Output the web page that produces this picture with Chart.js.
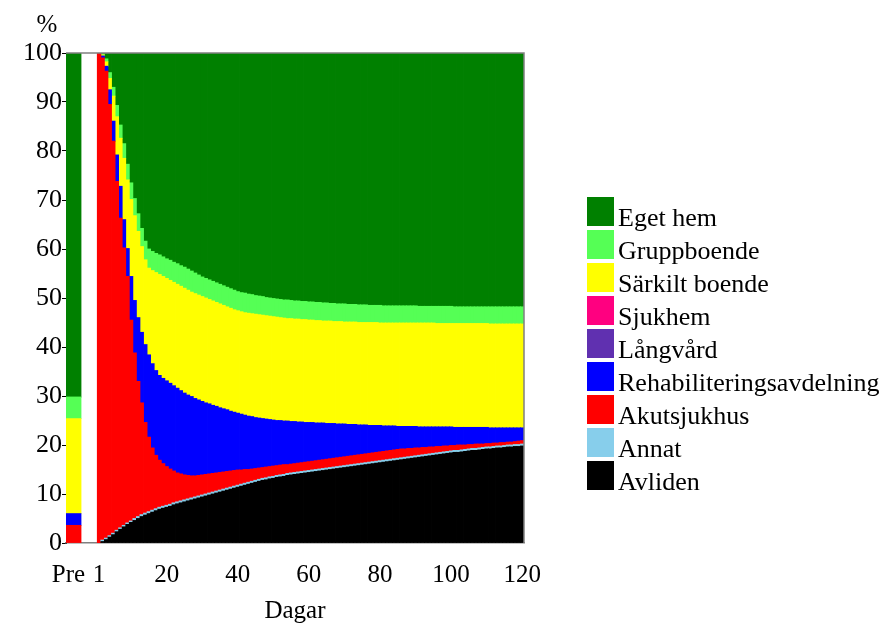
<!DOCTYPE html>
<html>
<head>
<meta charset="utf-8">
<script src="https://cdn.jsdelivr.net/npm/chart.js@4.4.1/dist/chart.umd.min.js"></script>
<style>
  html, body { margin: 0; padding: 0; background: #fff; }
</style>
</head>
<body>
<canvas id="chart" width="884" height="627"></canvas>
<script>
// ─── Data ───────────────────────────────
const days = Array.from({ length: 120 }, (_, i) => i + 1);
const xTickDays = [1, 20, 40, 60, 80, 100, 120];

const seriesNames = ["Avliden", "Annat", "Akutsjukhus", "Rehabiliteringsavdelning",
    "Långvård", "Sjukhem", "Särkilt boende", "Gruppboende", "Eget hem"];
const seriesColors = ["#000000", "#87ceeb", "#ff0000", "#0000ff",
    "#6030b0", "#ff0080", "#ffff00", "#55ff55", "#008000"];

// share before admission ("Pre"), same order as seriesNames
const preValues = [0, 0, 3.6, 2.4, 0, 0, 19.4, 4.4, 70.2];

const avliden = [
    0.0, 0.3, 0.7, 1.2, 1.7, 2.3, 2.8, 3.3, 3.8, 4.2,
    4.6, 5.0, 5.4, 5.7, 6.0, 6.3, 6.6, 6.9, 7.1, 7.3,
    7.5, 7.8, 8.0, 8.2, 8.4, 8.6, 8.8, 9.0, 9.2, 9.4,
    9.6, 9.8, 10.0, 10.2, 10.4, 10.6, 10.8, 11.0, 11.2, 11.4,
    11.6, 11.8, 12.0, 12.2, 12.4, 12.6, 12.8, 12.9, 13.1, 13.2,
    13.4, 13.5, 13.6, 13.8, 13.9, 14.0, 14.1, 14.2, 14.3, 14.4,
    14.5, 14.6, 14.7, 14.8, 14.9, 15.0, 15.1, 15.2, 15.3, 15.4,
    15.5, 15.6, 15.7, 15.8, 15.9, 16.0, 16.1, 16.2, 16.3, 16.4,
    16.5, 16.6, 16.7, 16.8, 16.9, 17.0, 17.1, 17.2, 17.3, 17.4,
    17.5, 17.6, 17.7, 17.8, 17.9, 18.0, 18.1, 18.2, 18.3, 18.4,
    18.5, 18.5, 18.6, 18.7, 18.8, 18.9, 18.9, 19.0, 19.1, 19.2,
    19.2, 19.3, 19.4, 19.4, 19.5, 19.6, 19.6, 19.7, 19.7, 19.8
];
const annat = [
    0.0, 0.3, 0.3, 0.3, 0.3, 0.3, 0.3, 0.3, 0.3, 0.3,
    0.4, 0.4, 0.4, 0.4, 0.4, 0.4, 0.4, 0.4, 0.4, 0.4,
    0.4, 0.4, 0.4, 0.4, 0.4, 0.4, 0.4, 0.4, 0.4, 0.4,
    0.4, 0.4, 0.4, 0.4, 0.4, 0.4, 0.4, 0.4, 0.4, 0.4,
    0.4, 0.4, 0.4, 0.4, 0.4, 0.4, 0.4, 0.4, 0.4, 0.4,
    0.4, 0.4, 0.4, 0.4, 0.4, 0.4, 0.4, 0.4, 0.4, 0.4,
    0.4, 0.4, 0.4, 0.4, 0.4, 0.4, 0.4, 0.4, 0.4, 0.4,
    0.4, 0.4, 0.4, 0.4, 0.4, 0.4, 0.4, 0.4, 0.4, 0.4,
    0.4, 0.4, 0.4, 0.4, 0.4, 0.4, 0.4, 0.4, 0.4, 0.4,
    0.4, 0.4, 0.4, 0.4, 0.4, 0.4, 0.4, 0.4, 0.4, 0.4,
    0.4, 0.4, 0.4, 0.4, 0.4, 0.4, 0.4, 0.4, 0.4, 0.4,
    0.4, 0.4, 0.4, 0.4, 0.4, 0.4, 0.4, 0.4, 0.4, 0.4
];
const akutsjukhus = [
    100.0, 98.4, 95.3, 88.0, 80.0, 71.2, 63.2, 56.6, 50.3, 41.0,
    33.8, 27.6, 22.8, 18.5, 15.2, 12.7, 10.9, 9.6, 8.7, 7.9,
    7.2, 6.5, 5.9, 5.5, 5.1, 4.8, 4.5, 4.3, 4.2, 4.1,
    4.0, 3.9, 3.8, 3.7, 3.6, 3.5, 3.4, 3.3, 3.2, 3.1,
    2.9, 2.8, 2.6, 2.5, 2.4, 2.3, 2.2, 2.2, 2.1, 2.1,
    2.0, 2.0, 2.0, 1.8, 1.8, 1.8, 1.8, 1.8, 1.8, 1.8,
    1.8, 1.8, 1.8, 1.8, 1.8, 1.8, 1.8, 1.8, 1.8, 1.8,
    1.8, 1.8, 1.8, 1.8, 1.8, 1.8, 1.8, 1.8, 1.8, 1.8,
    1.8, 1.8, 1.8, 1.8, 1.8, 1.8, 1.7, 1.7, 1.6, 1.6,
    1.5, 1.5, 1.4, 1.4, 1.3, 1.3, 1.2, 1.2, 1.1, 1.1,
    1.0, 1.1, 1.0, 0.9, 0.9, 0.8, 0.9, 0.8, 0.7, 0.7,
    0.7, 0.7, 0.6, 0.7, 0.6, 0.6, 0.6, 0.6, 0.7, 0.7
];
const rehab = [
    0.0, 0.4, 1.0, 3.0, 4.1, 5.4, 6.5, 5.8, 5.7, 8.9,
    10.7, 13.0, 14.4, 15.9, 16.8, 17.2, 17.3, 17.3, 17.4, 17.5,
    17.5, 17.4, 17.3, 17.0, 16.7, 16.4, 16.2, 15.8, 15.4, 15.0,
    14.6, 14.3, 13.9, 13.6, 13.2, 12.9, 12.6, 12.2, 11.9, 11.6,
    11.4, 11.1, 10.9, 10.7, 10.4, 10.2, 10.0, 9.8, 9.6, 9.4,
    9.2, 9.1, 8.9, 8.9, 8.7, 8.6, 8.4, 8.3, 8.1, 8.0,
    7.9, 7.7, 7.6, 7.5, 7.3, 7.2, 7.1, 6.9, 6.8, 6.7,
    6.5, 6.4, 6.3, 6.1, 6.0, 5.9, 5.7, 5.6, 5.5, 5.4,
    5.2, 5.1, 5.0, 4.9, 4.7, 4.6, 4.6, 4.5, 4.5, 4.4,
    4.3, 4.2, 4.2, 4.1, 4.1, 4.0, 4.0, 3.9, 3.9, 3.8,
    3.7, 3.6, 3.6, 3.6, 3.5, 3.5, 3.4, 3.4, 3.4, 3.3,
    3.2, 3.1, 3.1, 3.0, 3.0, 2.9, 2.9, 2.8, 2.7, 2.6
];
const langvard = new Array(120).fill(0);
const sjukhem = new Array(120).fill(0);
const sarkiltBoende = [
    0.0, 0.2, 0.9, 2.3, 5.1, 7.8, 9.8, 12.5, 14.0, 15.7,
    17.3, 17.6, 17.5, 17.3, 17.7, 19.0, 20.0, 20.6, 20.8, 20.9,
    21.0, 21.1, 21.2, 21.3, 21.4, 21.4, 21.3, 21.4, 21.4, 21.4,
    21.4, 21.3, 21.3, 21.2, 21.2, 21.1, 21.0, 21.0, 20.9, 20.9,
    20.9, 20.9, 21.0, 21.0, 21.1, 21.1, 21.1, 21.1, 21.1, 21.1,
    21.1, 21.0, 21.0, 20.9, 21.0, 20.9, 21.0, 20.9, 21.0, 20.9,
    20.9, 20.9, 20.9, 20.8, 20.9, 20.9, 20.8, 20.9, 20.9, 20.8,
    20.9, 20.9, 20.9, 20.9, 20.9, 20.9, 21.0, 21.0, 21.0, 20.9,
    21.0, 21.0, 21.0, 21.0, 21.1, 21.1, 21.1, 21.1, 21.1, 21.1,
    21.2, 21.2, 21.2, 21.2, 21.2, 21.1, 21.1, 21.1, 21.1, 21.1,
    21.2, 21.2, 21.2, 21.2, 21.2, 21.2, 21.2, 21.2, 21.2, 21.2,
    21.2, 21.2, 21.2, 21.2, 21.2, 21.2, 21.2, 21.2, 21.2, 21.2
];
const gruppboende = [
    0.0, 0.2, 0.6, 1.2, 1.8, 2.3, 2.7, 3.0, 3.2, 3.4,
    3.5, 3.6, 3.7, 3.8, 3.9, 3.9, 3.9, 4.0, 4.0, 4.0,
    4.1, 4.1, 4.2, 4.2, 4.3, 4.3, 4.3, 4.2, 4.1, 4.0,
    4.0, 4.0, 4.0, 4.0, 4.0, 4.0, 4.0, 4.0, 4.0, 3.9,
    3.9, 4.0, 3.9, 3.9, 3.8, 3.8, 3.8, 3.7, 3.7, 3.7,
    3.7, 3.7, 3.7, 3.8, 3.7, 3.7, 3.7, 3.7, 3.7, 3.7,
    3.7, 3.7, 3.7, 3.7, 3.7, 3.6, 3.7, 3.6, 3.6, 3.7,
    3.6, 3.6, 3.6, 3.6, 3.6, 3.6, 3.5, 3.5, 3.5, 3.6,
    3.5, 3.5, 3.5, 3.5, 3.5, 3.5, 3.5, 3.5, 3.5, 3.5,
    3.4, 3.4, 3.4, 3.4, 3.4, 3.5, 3.5, 3.5, 3.5, 3.5,
    3.4, 3.4, 3.4, 3.4, 3.4, 3.4, 3.4, 3.4, 3.4, 3.4,
    3.5, 3.5, 3.5, 3.5, 3.5, 3.5, 3.5, 3.5, 3.5, 3.5
];
const egetHem = [
    0.0, 0.2, 1.2, 4.0, 7.0, 10.7, 14.7, 18.5, 22.7, 26.5,
    29.7, 32.8, 35.8, 38.4, 40.0, 40.5, 40.9, 41.2, 41.6, 42.0,
    42.3, 42.7, 43.0, 43.4, 43.7, 44.1, 44.5, 44.9, 45.3, 45.7,
    46.0, 46.3, 46.6, 46.9, 47.2, 47.5, 47.8, 48.1, 48.4, 48.7,
    48.9, 49.0, 49.2, 49.3, 49.5, 49.6, 49.7, 49.9, 50.0, 50.1,
    50.2, 50.3, 50.4, 50.4, 50.5, 50.6, 50.6, 50.7, 50.7, 50.8,
    50.8, 50.9, 50.9, 51.0, 51.0, 51.1, 51.1, 51.2, 51.2, 51.2,
    51.3, 51.3, 51.3, 51.4, 51.4, 51.4, 51.5, 51.5, 51.5, 51.5,
    51.6, 51.6, 51.6, 51.6, 51.6, 51.6, 51.6, 51.6, 51.6, 51.6,
    51.7, 51.7, 51.7, 51.7, 51.7, 51.7, 51.7, 51.7, 51.7, 51.7,
    51.8, 51.8, 51.8, 51.8, 51.8, 51.8, 51.8, 51.8, 51.8, 51.8,
    51.8, 51.8, 51.8, 51.8, 51.8, 51.8, 51.8, 51.8, 51.8, 51.8
];

const series = [avliden, annat, akutsjukhus, rehab, langvard, sjukhem,
    sarkiltBoende, gruppboende, egetHem];

// ─── Layout constants ───────────────────
const FONT = "'Liberation Serif', 'Times New Roman', serif";
const PRE_X = -6.19;        // centre of the "Pre" column, in day units
const PRE_LABEL_X = -7.6;   // where the "Pre" tick label sits
const X_MIN = -8.3, X_MAX = 120.5;

const noSliver = (c) => (c.raw && c.raw.y > 0 ? 0.4 : 0);

const datasets = [];
series.forEach((vals, k) => {
    datasets.push({
        label: seriesNames[k],
        data: vals.map((v, i) => ({ x: days[i], y: v })),
        backgroundColor: seriesColors[k],
        borderWidth: 0,
        barPercentage: 1,
        categoryPercentage: 1,
        inflateAmount: noSliver,
    });
});
series.forEach((vals, k) => {
    datasets.push({
        label: seriesNames[k] + " (Pre)",
        data: [{ x: PRE_X, y: preValues[k] }],
        backgroundColor: seriesColors[k],
        borderWidth: 0,
        barThickness: 15,
        inflateAmount: noSliver,
    });
});

const decorPlugin = {
    id: "decor",
    afterDatasetsDraw(chart) {
        const { ctx, chartArea: a } = chart;
        ctx.save();
        ctx.strokeStyle = "#808080";
        ctx.lineWidth = 1.5;
        ctx.beginPath();
        ctx.moveTo(a.left, a.top);
        ctx.lineTo(a.right, a.top);
        ctx.lineTo(a.right, a.bottom);
        ctx.stroke();
        ctx.restore();
    },
    afterDraw(chart) {
        const ctx = chart.ctx;
        ctx.save();
        ctx.fillStyle = "#000";
        ctx.font = "25px " + FONT;
        ctx.textAlign = "center";
        ctx.textBaseline = "alphabetic";
        ctx.fillText("%", 47, 32);

        // legend, top entry = top of the stack
        ctx.font = "26px " + FONT;
        ctx.textAlign = "left";
        for (let i = 0; i < seriesNames.length; i++) {
            const k = seriesNames.length - 1 - i;
            const top = 197 + i * 33;
            ctx.fillStyle = seriesColors[k];
            ctx.fillRect(587, top, 27, 29);
            ctx.fillStyle = "#000";
            ctx.fillText(seriesNames[k], 618, top + 28.5);
        }
        ctx.restore();
    },
};

new Chart(document.getElementById("chart"), {
    type: "bar",
    data: { datasets },
    plugins: [decorPlugin],
    options: {
        responsive: false,
        animation: false,
        layout: { padding: { top: 53, right: 360, left: 0, bottom: 0 } },
        plugins: { legend: { display: false }, tooltip: { enabled: false } },
        scales: {
            x: {
                type: "linear",
                min: X_MIN, max: X_MAX,
                offset: false,
                stacked: true,
                z: 1,
                grid: { display: false, offset: false },
                border: { display: true, color: "#808080", width: 1.5 },
                afterBuildTicks: (s) => {
                    s.ticks = [{ value: PRE_LABEL_X }].concat(xTickDays.map((v) => ({ value: v })));
                },
                ticks: {
                    autoSkip: false, maxRotation: 0, padding: 9, color: "#000",
                    font: { family: FONT, size: 25 },
                    callback: (v) => (v === PRE_LABEL_X ? "Pre" : String(v)),
                },
                title: {
                    display: true, text: "Dagar", color: "#000",
                    font: { family: FONT, size: 25 },
                    padding: { top: 0, bottom: 1 },
                },
                afterFit: (s) => { s.height = 84; },
            },
            y: {
                min: 0, max: 100,
                stacked: true,
                z: 1,
                ticks: { stepSize: 10, padding: 0, color: "#000", font: { family: FONT, size: 26 } },
                grid: { drawOnChartArea: false, drawTicks: true, tickLength: 4, color: "#000" },
                border: { display: true, color: "#404040", width: 1 },
                afterFit: (s) => { s.width = 66; },
            },
        },
    },
});
</script>
</body>
</html>
